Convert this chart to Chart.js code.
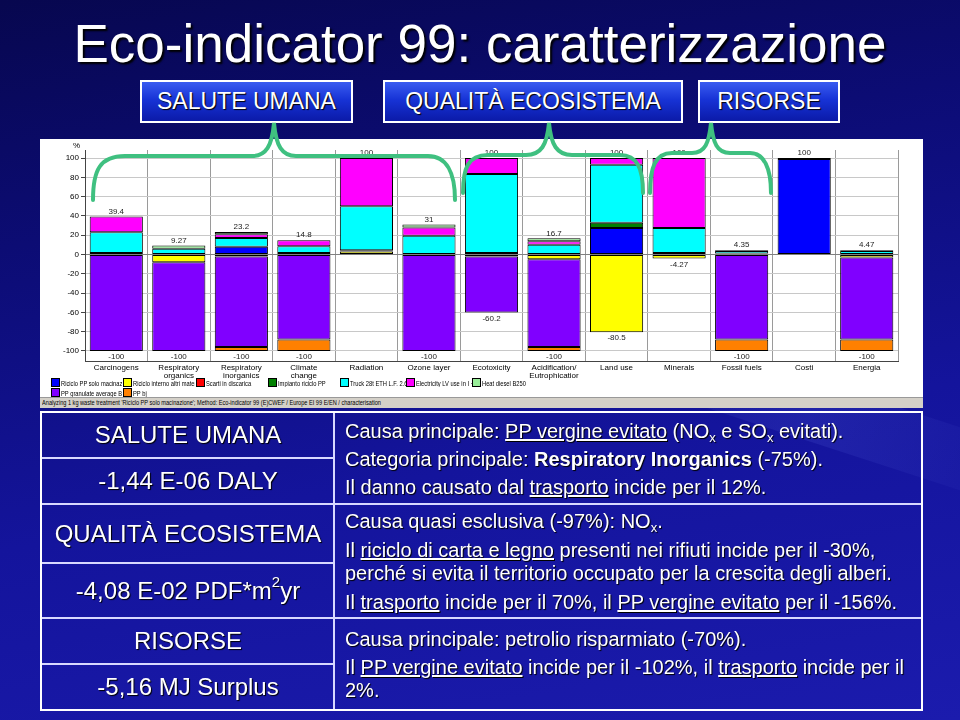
<!DOCTYPE html>
<html>
<head>
<meta charset="utf-8">
<script src="https://cdn.jsdelivr.net/npm/chart.js@4.4.1/dist/chart.umd.min.js"></script>
<style>
  html,body{margin:0;padding:0;}
  body{width:960px;height:720px;position:relative;overflow:hidden;font-family:"Liberation Sans",Arial,sans-serif;
    background:linear-gradient(170deg,#07074f 0%,#0c0c74 28%,#14149c 62%,#1b1bad 100%);}
  .streak{position:absolute;pointer-events:none;}
  #title{position:absolute;left:0;top:13px;width:960px;text-align:center;color:#fff;font-size:53px;
    text-shadow:2px 2px 2px #000;white-space:nowrap;}
  .box{position:absolute;top:80px;height:39px;border:2px solid #fff;color:#fff;font-size:23px;
    display:flex;align-items:center;justify-content:center;text-shadow:1px 1px 1px #000;
    background:linear-gradient(180deg,#3a5cf0 0%,#1733d6 45%,#0b1aa8 100%);}
  #panel{position:absolute;left:40px;top:139px;width:883px;height:268px;background:#fff;}
  #status{position:absolute;left:40px;top:397px;width:883px;height:10px;background:#d4d0c8;border-top:1px solid #999;
    font-size:8px;line-height:10px;color:#000;white-space:nowrap;overflow:hidden;}
  #status span{display:inline-block;padding-left:3px;transform:scaleX(0.7);transform-origin:0 50%;}
  #pct{position:absolute;left:73px;top:141px;font-size:8px;color:#000;}
  .lg{position:absolute;font-size:8px;color:#000;white-space:nowrap;overflow:hidden;height:9px;line-height:9px;}
  .lg i{display:inline-block;width:7px;height:7px;border:1px solid #000;vertical-align:-1px;margin-right:1px;}
  .lg span{display:inline-block;transform:scaleX(0.72);transform-origin:0 50%;}
  #chartc{position:absolute;left:40px;top:140px;}
  #tbl{position:absolute;left:40px;top:411px;width:879px;height:296px;border:2px solid #fff;}
  .hl{position:absolute;height:2px;background:#d8d8ff;}
  .vl{position:absolute;width:2px;background:#d8d8ff;}
  .lc{position:absolute;left:42px;width:292px;color:#fff;font-size:24px;display:flex;align-items:center;justify-content:center;
    text-shadow:1px 1px 1px #000;white-space:nowrap;}
  .rt{position:absolute;left:345px;color:#fff;font-size:20px;white-space:nowrap;text-shadow:1px 1px 1px #000;}
  .rt sub{font-size:13px;vertical-align:-4px;line-height:0;}
  .sp{font-size:15px;position:relative;top:-9px;}
</style>
</head>
<body>
<div class="streak" style="left:560px;top:380px;width:500px;height:60px;transform:rotate(18deg);background:linear-gradient(90deg,rgba(120,140,255,0),rgba(120,140,255,0.12),rgba(120,140,255,0));"></div>
<div id="title">Eco-indicator 99: caratterizzazione</div>
<div class="box" style="left:140px;width:209px;">SALUTE UMANA</div>
<div class="box" style="left:383px;width:296px;">QUALITÀ ECOSISTEMA</div>
<div class="box" style="left:698px;width:138px;">RISORSE</div>

<div id="panel"></div>
<canvas id="chartc" width="882" height="250"></canvas>
<div id="pct">%</div>
<div id="status"><span>Analyzing 1 kg waste treatment 'Riciclo PP solo macinazione';  Method: Eco-indicator 99 (E)CWEF /  Europe EI 99 E/EN / characterisation</span></div>
<div id="legend"></div>

<svg width="960" height="720" style="position:absolute;left:0;top:0;pointer-events:none;">
  <g fill="none" stroke="#3fc080" stroke-width="4" stroke-linecap="round">
    <path d="M93 200 C93 170 100 156 125 156 L252 156 C266 156 272 146 274 123 C276 146 282 156 296 156 L428 156 C446 156 455 172 455 200"/>
    <path d="M463 193 C463 168 468 155 488 155 L526 155 C541 155 547 145 549 123 C551 145 557 155 572 155 L620 155 C637 155 643 168 643 193"/>
    <path d="M650 193 C650 168 655 153 672 153 L692 153 C705 153 709 143 711 123 C713 143 717 153 730 153 L750 153 C764 153 771 168 771 193"/>
  </g>
</svg>

<div id="tbl"></div>
<div class="vl" style="left:333px;top:413px;height:296px;"></div>
<div class="hl" style="left:42px;top:457px;width:291px;"></div>
<div class="hl" style="left:42px;top:503px;width:879px;"></div>
<div class="hl" style="left:42px;top:562px;width:291px;"></div>
<div class="hl" style="left:42px;top:617px;width:879px;"></div>
<div class="hl" style="left:42px;top:663px;width:291px;"></div>

<div class="lc" style="top:413px;height:44px;">SALUTE UMANA</div>
<div class="lc" style="top:459px;height:44px;">-1,44 E-06 DALY</div>
<div class="lc" style="top:505px;height:57px;">QUALITÀ ECOSISTEMA</div>
<div class="lc" style="top:564px;height:53px;">-4,08 E-02 PDF*m<span class="sp">2</span>yr</div>
<div class="lc" style="top:619px;height:44px;">RISORSE</div>
<div class="lc" style="top:665px;height:44px;">-5,16 MJ Surplus</div>

<div class="rt" style="top:420px;">Causa principale: <u>PP vergine evitato</u> (NO<sub>x</sub> e SO<sub>x</sub> evitati).</div>
<div class="rt" style="top:448px;">Categoria principale: <b>Respiratory Inorganics</b> (-75%).</div>
<div class="rt" style="top:476px;">Il danno causato dal <u>trasporto</u> incide per il 12%.</div>
<div class="rt" style="top:510px;">Causa quasi esclusiva (-97%): NO<sub>x</sub>.</div>
<div class="rt" style="top:539px;">Il <u>riciclo di carta e legno</u> presenti nei rifiuti incide per il -30%,</div>
<div class="rt" style="top:562px;">perché si evita il territorio occupato per la crescita degli alberi.</div>
<div class="rt" style="top:591px;">Il <u>trasporto</u> incide per il 70%, il <u>PP vergine evitato</u> per il -156%.</div>
<div class="rt" style="top:628px;">Causa principale: petrolio risparmiato (-70%).</div>
<div class="rt" style="top:656px;">Il <u>PP vergine evitato</u> incide per il -102%, il <u>trasporto</u> incide per il</div>
<div class="rt" style="top:679px;">2%.</div>

<script>
// ---- data ----
const categories = ['Carcinogens', ['Respiratory','organics'], ['Respiratory','inorganics'], ['Climate','change'],
  'Radiation', 'Ozone layer', 'Ecotoxicity', ['Acidification/','Eutrophicatior'], 'Land use', 'Minerals',
  'Fossil fuels', 'Costi', 'Energia'];

const seriesNames = ['Riciclo PP solo macinazione', 'Riciclo interno altri materiali', 'Scarti in discarica',
  'Impianto riciclo PP', 'Truck 28t ETH L.F. 2.68%', 'Electricity LV use in I + imp', 'Heat diesel B250',
  'PP granulate average B250', 'PP bj'];

const ricicloPP      = [null, null, 8, null, null, null, null, null, 27.5, null, null, 99, null];
const ricicloInterno = [null, -8, -2, null, 3, null, null, -5, -80.5, -4.27, 1, null, -3];
const scarti         = [null, null, null, null, null, null, null, null, null, null, null, 1, null];
const impianto       = [1.5, null, null, 1.5, 1.5, null, 1.5, null, 5.5, 1.5, null, null, null];
const truck          = [21.5, 6, 9, 7, 45.5, 19.5, 82, 10, 60, 26, 2.5, null, 3.5];
const electricity    = [16.4, null, 4, 6.3, 50, 8.5, 16.5, 3.7, 7, 72.5, null, null, null];
const heatDiesel     = [null, 3.27, 2.2, null, null, 3, -2, 3, null, null, 0.85, null, 0.97];
const ppGranulate    = [-100, -92, -94, -88, null, -100, -58.2, -91, null, null, -88, null, -85];
const ppBj           = [null, null, -4, -12, null, null, null, -4, null, null, -12, null, -12];

const yTicks = [-100, -90, -80, -70, -60, -50, -40, -30, -20, -10, 0, 10, 20, 30, 40, 50, 60, 70, 80, 90, 100];

const seriesData = [ricicloPP, ricicloInterno, scarti, impianto, truck, electricity, heatDiesel, ppGranulate, ppBj];
const seriesColors = ['#0000ff', '#ffff00', '#ff0000', '#008000', '#00ffff', '#ff00ff', '#99ee99', '#8000ff', '#ff8000'];

// ---- legend (HTML) ----
const legendPos = [[51,378,71],[123,378,72],[196,378,71],[268,378,71],[340,378,66],[406,378,66],[472,378,80],[51,388,71],[123,388,60]];
const lg = document.getElementById('legend');
seriesNames.forEach((n, i) => {
  const d = document.createElement('div');
  d.className = 'lg';
  d.style.left = legendPos[i][0] + 'px';
  d.style.top = legendPos[i][1] + 'px';
  d.style.width = legendPos[i][2] + 'px';
  d.innerHTML = '<i style="background:' + seriesColors[i] + '"></i><span>' + n + '</span>';
  lg.appendChild(d);
});

// ---- total labels plugin ----
const totalsPlugin = {
  id: 'totals',
  afterDatasetsDraw(chart) {
    const ctx = chart.ctx, xs = chart.scales.x, ys = chart.scales.y;
    ctx.save();
    ctx.font = '8px "Liberation Sans", Arial, sans-serif';
    ctx.fillStyle = '#222';
    ctx.textAlign = 'center';
    categories.forEach((c, i) => {
      let pos = 0, neg = 0;
      seriesData.forEach(s => { const v = s[i]; if (v > 0) pos += v; else if (v < 0) neg += v; });
      const x = xs.getPixelForValue(i);
      if (pos > 0) {
        ctx.textBaseline = 'bottom';
        ctx.fillText(String(Number(pos.toPrecision(3))), x, ys.getPixelForValue(pos) - 1);
      }
      if (neg < 0) {
        ctx.textBaseline = 'top';
        ctx.fillText(String(Number(neg.toPrecision(3))), x, ys.getPixelForValue(neg) + 2);
      }
    });
    ctx.restore();
  }
};

new Chart(document.getElementById('chartc'), {
  type: 'bar',
  data: {
    labels: categories,
    datasets: seriesNames.map((n, i) => ({
      label: n,
      data: seriesData[i],
      backgroundColor: seriesColors[i],
      borderColor: '#000',
      borderWidth: 1,
      borderSkipped: false,
      barPercentage: 0.85,
      categoryPercentage: 1
    }))
  },
  options: {
    responsive: false,
    animation: false,
    devicePixelRatio: 1,
    layout: { padding: { top: 10, right: 24, left: 0, bottom: 10 } },
    plugins: { legend: { display: false }, tooltip: { enabled: false } },
    scales: {
      x: {
        stacked: true,
        grid: { color: '#9a9a9a', lineWidth: 1, drawTicks: false },
        border: { color: '#444', width: 1 },
        ticks: { font: { size: 8, family: '"Liberation Sans", Arial', lineHeight: 0.95 }, color: '#000', maxRotation: 0, autoSkip: false, padding: 3 },
        afterFit: s => { s.height = 19; }
      },
      y: {
        stacked: true,
        min: -110.4,
        max: 108.3,
        afterBuildTicks: s => { s.ticks = yTicks.map(v => ({ value: v })); },
        grid: { color: c => (c.tick && c.tick.value === 0 ? '#808080' : '#c8c8c8'), tickLength: 4, tickColor: '#444' },
        border: { color: '#444', width: 1 },
        ticks: { font: { size: 8, family: '"Liberation Sans", Arial' }, color: '#000', padding: 2 },
        afterFit: s => { s.width = 45; }
      }
    }
  },
  plugins: [totalsPlugin]
});
</script>
</body>
</html>
